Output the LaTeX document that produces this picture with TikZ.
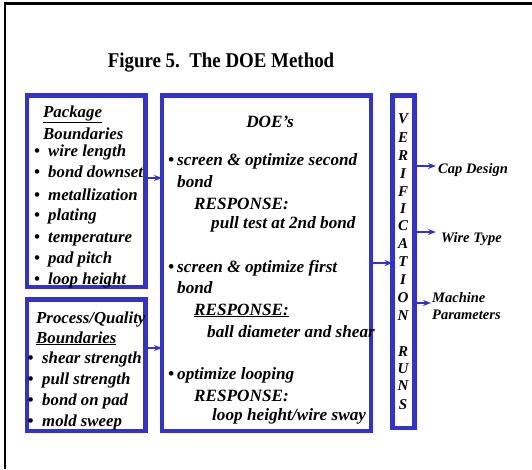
\documentclass[tikz,border=0pt]{standalone}
\usepackage{fontspec}
\setmainfont{Liberation Serif}
\usetikzlibrary{arrows.meta}
\definecolor{boxblue}{RGB}{51,51,204}
\tikzset{
  bbox/.style={draw=boxblue,line width=4.5pt},
  txt/.style={anchor=base west,inner sep=0pt,font=\fontsize{16.8}{16.8}\selectfont\bfseries\itshape},
  dtxt/.style={anchor=base west,inner sep=0pt,font=\fontsize{17.2}{17.2}\selectfont\bfseries\itshape},
  ltr/.style={anchor=base,inner sep=0pt,font=\fontsize{15}{15}\selectfont\bfseries\itshape},
  rtxt/.style={anchor=base west,inner sep=0pt,font=\fontsize{14.5}{14.5}\selectfont\bfseries\itshape},
  conn/.style={draw=boxblue,line width=1.6pt,-{Stealth[length=8pt,width=6pt]}}
}
\begin{document}
\begin{tikzpicture}[x=1pt,y=-1pt]
\useasboundingbox (0,0) rectangle (532,469);
% outer frame
\draw[line width=2.5pt] (5,469) -- (5,3.5) -- (532,3.5);
% title
\node[anchor=base,inner sep=0pt,xscale=0.9,font=\fontsize{21}{21}\selectfont\bfseries] (title) at (221,67) {Figure 5.\ \ The DOE Method};
% boxes
\draw[bbox] (27,95.5) rectangle (145.5,287);
\coordinate (pkgE) at (145.5,178);
\draw[bbox] (27,299.5) rectangle (145.5,431);
\coordinate (procE) at (145.5,348);
\draw[bbox] (162,95.5) rectangle (371,431);
\coordinate (doeW1) at (162,178);
\coordinate (doeW2) at (162,348);
\coordinate (doeE) at (371,263);
\draw[bbox] (392.5,95.5) rectangle (414.5,428);
\coordinate (verW) at (392.5,263);
\coordinate (verE1) at (414.5,166);
\coordinate (verE2) at (414.5,232);
\coordinate (verE3) at (414.5,303);
\coordinate (capT) at (436,166);
\coordinate (wireT) at (436,232);
\coordinate (machT) at (431,303);
% package text
\node[txt] (p0) at (43,117) {\underline{Package}};
\node[txt] (p1) at (43,139) {Boundaries};
\foreach \y/\t [count=\i] in {156/wire length,177/bond downset,200/metallization,220/plating,242/temperature,263/pad pitch,284/loop height}{
  \node[txt] (pb\i) at (34,\y) {•};
  \node[txt] (pt\i) at (48,\y) {\t};
}
% process text
\node[txt] (q0) at (36,323) {Process/Quality};
\node[txt] (q1) at (36,343) {\underline{Boundaries}};
\foreach \y/\t [count=\i] in {363/shear strength,384/pull strength,405/bond on pad,426/mold sweep}{
  \node[txt] (qb\i) at (27.5,\y) {•};
  \node[txt] (qt\i) at (42,\y) {\t};
}
% DOE text
\node[anchor=base,inner sep=0pt,font=\fontsize{17.2}{17.2}\selectfont\bfseries\itshape] (d0) at (270,127) {DOE’s};
\node[dtxt] (d1b) at (168,165) {•};
\node[dtxt] (d1) at (177,165) {screen \& optimize second};
\node[dtxt] (d2) at (177,187) {bond};
\node[dtxt] (d3) at (194,209) {RESPONSE:};
\node[dtxt] (d4) at (211,228) {pull test at 2nd bond};
\node[dtxt] (d5b) at (168,272) {•};
\node[dtxt] (d5) at (177,272) {screen \& optimize first};
\node[dtxt] (d6) at (177,293) {bond};
\node[dtxt] (d7) at (194,315) {\underline{RESPONSE:}};
\node[dtxt] (d8) at (207,337) {ball diameter and shear};
\node[dtxt] (d9b) at (168,379) {•};
\node[dtxt] (d9) at (177,379) {optimize looping};
\node[dtxt] (d10) at (194,401) {RESPONSE:};
\node[dtxt] (d11) at (212,420) {loop height/wire sway};
% verification letters
\foreach \y/\l [count=\i] in {123/V,142/E,160/R,178/I,196/F,213/I,230/C,248/A,266/T,284/I,302/O,320/N,356/R,373/U,390/N,409/S}{
  \node[ltr] (v\i) at (403,\y) {\l};
}
% right labels
\node[rtxt] (cap) at (438,173) {Cap Design};
\node[rtxt] (wire) at (441,242) {Wire Type};
\node[rtxt] (mach) at (432,302) {Machine};
\node[rtxt] (par) at (432,319) {Parameters};
% connectors
\draw[conn] (pkgE) -- (doeW1);
\draw[conn] (procE) -- (doeW2);
\draw[conn] (doeE) -- (verW);
\draw[conn] (verE1) -- (capT);
\draw[conn] (verE2) -- (wireT);
\draw[conn] (verE3) -- (machT);
\end{tikzpicture}
\end{document}
